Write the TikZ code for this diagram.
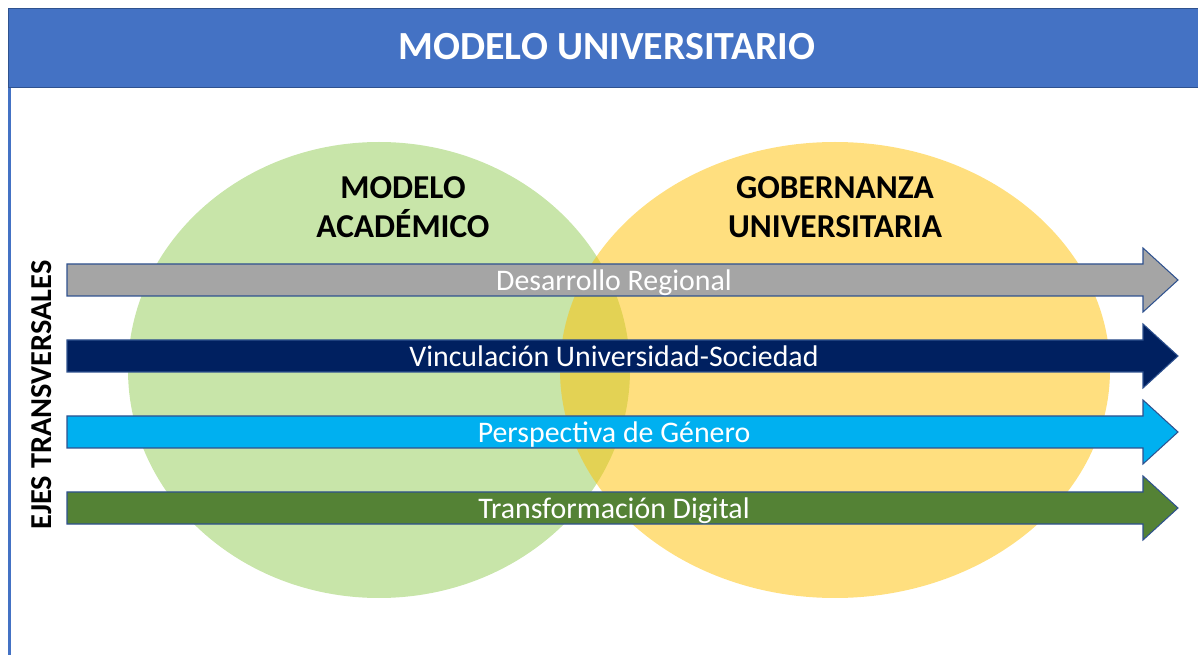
\documentclass[tikz,border=0pt]{standalone}
\usepackage{fontspec}
\setmainfont{Carlito}
\usepackage{tikz}
\usetikzlibrary{positioning}

\definecolor{azulTitulo}{HTML}{4472C4}
\definecolor{azulBorde}{HTML}{2F528F}
\definecolor{verdeClaro}{HTML}{C8E5A9}
\definecolor{amarillo}{HTML}{FFC000}
\definecolor{grisEje}{HTML}{A5A5A5}
\definecolor{marinoEje}{HTML}{002060}
\definecolor{celesteEje}{HTML}{00B0F0}
\definecolor{verdeEje}{HTML}{548235}

\tikzstyle{titulo} = [text=white, font=\bfseries\fontsize{22.7}{27}\selectfont]
\tikzstyle{campo} = [align=center, text=black,
    font=\bfseries\fontsize{19}{22}\selectfont]
\tikzstyle{lateral} = [text=black, font=\bfseries\fontsize{17.3}{21}\selectfont]
\tikzstyle{eje} = [draw=azulBorde, line width=0.6pt]
\tikzstyle{etiqueta} = [text=white, anchor=base, font=\fontsize{17}{20}\selectfont]

\begin{document}
\begin{tikzpicture}[x=0.02cm, y=-0.02cm]
                \useasboundingbox (0,0) rectangle (1198,655);

                % cabecera
                \draw[fill=azulTitulo, draw=azulBorde, line width=1pt] (8.5,8.5) rectangle (1215,87.5);
                \draw[azulTitulo, line width=2pt] (9.5,88) -- (9.5,655);
                \node[titulo] (modelo) at (607,47) {MODELO UNIVERSITARIO};

                % los dos campos
                \fill[verdeClaro] (379,370) ellipse [x radius=251, y radius=228];
                \fill[amarillo, fill opacity=0.5] (835,370) ellipse [x radius=275, y radius=228];
                \node[campo] (academico) at (403,207) {MODELO\\ACADÉMICO};
                \node[campo] (gobernanza) at (835,207) {GOBERNANZA\\UNIVERSITARIA};

                % ejes transversales
                \node[lateral, rotate=90] (ejes) at (42,395) {EJES TRANSVERSALES};
                \foreach \yc/\col/\nombre/\txt in {280/grisEje/desarrollo/Desarrollo Regional,
                        356/marinoEje/vinculacion/Vinculación Universidad-Sociedad,
                        432/celesteEje/genero/Perspectiva de Género,
                        508/verdeEje/digital/Transformación Digital} {
                    \draw[eje, fill=\col] (67,\yc-16) -- (1143,\yc-16) -- (1143,\yc-32) -- (1178,\yc)
                        -- (1143,\yc+32) -- (1143,\yc+16) -- (67,\yc+16) -- cycle;
                    \node[etiqueta] (\nombre) at (614,\yc+10.5) {\txt};
                }
\end{tikzpicture}
\end{document}
